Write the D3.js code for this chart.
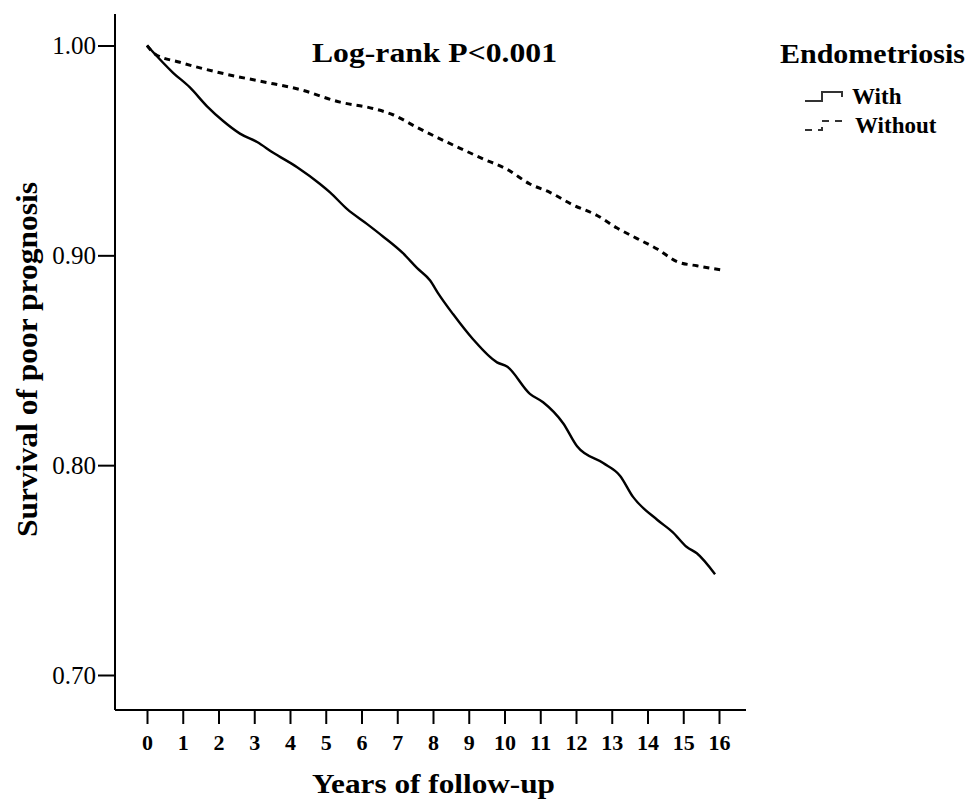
<!DOCTYPE html>
<html>
<head>
<meta charset="utf-8">
<script src="https://cdn.jsdelivr.net/npm/d3@7"></script>
<style>
  body { margin: 0; background: #fff; }
</style>
</head>
<body>
<div id="km"></div>
<script>
// survival curves (years, survival)
var withYears    = [0, 0.73, 1.2, 1.68, 2.13, 2.6, 3.08, 3.52, 4.2, 4.84, 5.12, 5.6, 6.15, 6.6, 7.16, 7.55, 7.92, 8.14, 8.56, 9.12, 9.79, 10.07, 10.71, 11.08, 11.64, 12.03, 12.76, 13.23, 13.59, 14.27, 14.71, 15.1, 15.38, 15.89];
var withSurv     = [1.000, 0.987, 0.980, 0.971, 0.964, 0.958, 0.954, 0.949, 0.942, 0.934, 0.930, 0.922, 0.915, 0.909, 0.901, 0.894, 0.888, 0.882, 0.872, 0.860, 0.849, 0.847, 0.834, 0.830, 0.820, 0.809, 0.801, 0.795, 0.785, 0.774, 0.768, 0.761, 0.758, 0.748];
var withoutYears = [0, 0.22, 0.92, 2.04, 3.16, 4.28, 5.4, 6.32, 6.88, 7.55, 8.14, 8.76, 9.4, 10.07, 10.71, 11.27, 11.92, 12.59, 13.15, 13.71, 14.27, 14.83, 15.38, 16.08];
var withoutSurv  = [1.000, 0.996, 0.992, 0.987, 0.983, 0.979, 0.973, 0.970, 0.967, 0.961, 0.956, 0.951, 0.946, 0.941, 0.934, 0.930, 0.924, 0.919, 0.913, 0.908, 0.903, 0.897, 0.895, 0.893];

var xTicks = d3.range(0, 17);
var yTicks = [0.70, 0.80, 0.90, 1.00];
var groups = ["With", "Without"];

var serif = "'Liberation Serif', 'Times New Roman', Times, serif";
var width = 968, height = 799;

var svg = d3.select("#km").append("svg")
  .attr("width", width)
  .attr("height", height);

// scales
var x = d3.scaleLinear().domain([0, 16]).range([147, 719]);
var y = d3.scaleLinear().domain([0.70, 1.00]).range([675, 45.5]);

var axisX = 115, axisY = 710;

// x axis
var gx = svg.append("g")
  .attr("transform", "translate(0," + axisY + ")")
  .call(d3.axisBottom(x).tickValues(xTicks).tickSize(14).tickPadding(10).tickFormat(d3.format("d")));
gx.attr("font-family", serif);
gx.select(".domain").remove();
gx.selectAll(".tick line").attr("stroke", "#000").attr("stroke-width", 2);
gx.selectAll(".tick text")
  .attr("font-family", serif)
  .attr("font-size", 22)
  .attr("font-weight", "bold");

// y axis
var gy = svg.append("g")
  .attr("transform", "translate(" + axisX + ",0)")
  .call(d3.axisLeft(y).tickValues(yTicks).tickSize(17).tickPadding(2).tickFormat(d3.format(".2f")));
gy.attr("font-family", serif);
gy.select(".domain").remove();
gy.selectAll(".tick line").attr("stroke", "#000").attr("stroke-width", 2);
gy.selectAll(".tick text")
  .attr("font-family", serif)
  .attr("font-size", 25);

// axis lines
svg.append("line")
  .attr("x1", axisX).attr("x2", axisX).attr("y1", 14).attr("y2", axisY)
  .attr("stroke", "#000").attr("stroke-width", 2);
svg.append("line")
  .attr("x1", axisX).attr("x2", 746).attr("y1", axisY).attr("y2", axisY)
  .attr("stroke", "#000").attr("stroke-width", 2);

// curves
var line = d3.line()
  .curve(d3.curveMonotoneX)
  .x(function(d) { return x(d[0]); })
  .y(function(d) { return y(d[1]); });

var withData = withYears.map(function(t, i) { return [t, withSurv[i]]; });
var withoutData = withoutYears.map(function(t, i) { return [t, withoutSurv[i]]; });

svg.append("path")
  .datum(withoutData)
  .attr("d", line)
  .attr("fill", "none")
  .attr("stroke", "#000")
  .attr("stroke-width", 3)
  .attr("stroke-dasharray", "6,5");

svg.append("path")
  .datum(withData)
  .attr("d", line)
  .attr("fill", "none")
  .attr("stroke", "#000")
  .attr("stroke-width", 2.4)
  .attr("stroke-linejoin", "round");

// annotation
svg.append("text")
  .attr("x", 312).attr("y", 62)
  .attr("textLength", 245).attr("lengthAdjust", "spacingAndGlyphs")
  .attr("font-family", serif).attr("font-size", 27).attr("font-weight", "bold")
  .text("Log-rank P<0.001");

// axis titles
svg.append("text")
  .attr("x", 312).attr("y", 793)
  .attr("textLength", 243).attr("lengthAdjust", "spacingAndGlyphs")
  .attr("font-family", serif).attr("font-size", 27).attr("font-weight", "bold")
  .text("Years of follow-up");

svg.append("text")
  .attr("transform", "translate(37,537) rotate(-90)")
  .attr("textLength", 355).attr("lengthAdjust", "spacingAndGlyphs")
  .attr("font-family", serif).attr("font-size", 30).attr("font-weight", "bold")
  .text("Survival of poor prognosis");

// legend
svg.append("text")
  .attr("x", 780).attr("y", 63)
  .attr("textLength", 185).attr("lengthAdjust", "spacingAndGlyphs")
  .attr("font-family", serif).attr("font-size", 27).attr("font-weight", "bold")
  .text("Endometriosis");

var legend = svg.selectAll(".legendItem")
  .data(groups)
  .enter().append("g")
  .attr("class", "legendItem")
  .attr("transform", function(d, i) { return "translate(0," + (i * 29) + ")"; });

legend.append("path")
  .attr("d", "M805,101H822V92H842V97")
  .attr("fill", "none")
  .attr("stroke", "#333")
  .attr("stroke-width", 2)
  .attr("stroke-dasharray", function(d) { return d == "Without" ? "7,6" : null; });

legend.append("text")
  .attr("x", function(d) { return d == "With" ? 852 : 855; })
  .attr("y", 104)
  .attr("font-family", serif).attr("font-size", 23).attr("font-weight", "bold")
  .text(function(d) { return d; });
</script>
</body>
</html>
